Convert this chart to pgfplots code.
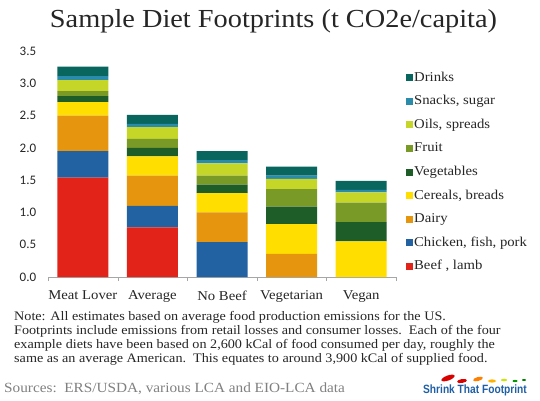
\documentclass[border=0pt]{standalone}
\usepackage{fontspec}
\setmainfont{Liberation Serif}[FakeStretch=1.09]
\newfontfamily\calibri{Carlito}
\newfontfamily\logofont{Liberation Sans}
\usepackage{pgfplots}
\pgfplotsset{compat=1.18}
\usepackage{pgfplotstable}

\definecolor{cBeef}{HTML}{E2231A}
\definecolor{cChicken}{HTML}{2362A2}
\definecolor{cDairy}{HTML}{E5960E}
\definecolor{cCereals}{HTML}{FFDE00}
\definecolor{cVeg}{HTML}{1E5C28}
\definecolor{cFruit}{HTML}{7A9A28}
\definecolor{cOils}{HTML}{C5D629}
\definecolor{cSnacks}{HTML}{2B8BAA}
\definecolor{cDrinks}{HTML}{08665E}
\definecolor{cText}{HTML}{262626}
\definecolor{cSrc}{HTML}{808080}
\definecolor{cLogo}{HTML}{1F5FA6}

\pgfplotstableread{
x beef chicken dairy cereals veg fruit oils snacks drinks total lab
0 1.54 0.41 0.55 0.21 0.09 0.08 0.17 0.06 0.15 0 3.3
1 0.77 0.33 0.47 0.30 0.13 0.14 0.18 0.05 0.14 0 2.5
2 0    0.54 0.46 0.30 0.13 0.14 0.19 0.05 0.14 0 1.9
3 0    0    0.36 0.46 0.27 0.27 0.16 0.05 0.14 0 1.7
4 0    0    0    0.55 0.30 0.30 0.16 0.04 0.14 0 1.5
}\data

\begin{document}
\begin{tikzpicture}
\fill[white] (0,0) rectangle (540pt,400pt);
\path[use as bounding box] (0,0) rectangle (540pt,400pt);

\node[anchor=base, font=\fontsize{26}{26}\selectfont, text=cText, inner sep=0pt] at (273.5pt,373pt) {Sample Diet Footprints (t CO2e/capita)};

\begin{axis}[
  at={(48pt,123pt)}, anchor=south west,
  scale only axis, width=348pt, height=226pt,
  ybar stacked, bar width=51pt,
  xmin=-0.5, xmax=4.5, ymin=0, ymax=3.5,
  axis x line*=bottom, axis y line*=left,
  axis line style={-},
  x axis line style={draw=gray!70},
  y axis line style={draw=none},
  xtick={0,...,4},
  xticklabels={Meat Lover, Average, No Beef, Vegetarian, Vegan},
  major x tick style={draw=none},
  minor xtick={-0.5,0.5,1.5,2.5,3.5,4.5},
  minor x tick style={draw=gray!70},
  minor tick length=4pt,
  tick align=outside,
  ytick={0,0.5,...,3.5},
  ytick style={draw=none},
  xticklabel style={font=\fontsize{13.5}{13.5}\selectfont, text=cText, yshift=-6pt},
  yticklabel style={font=\calibri\fontsize{13}{13}\selectfont, text=cText, xshift=-4pt, /pgf/number format/fixed, /pgf/number format/precision=1, /pgf/number format/fixed zerofill, /pgf/number format/assume math mode=true},
  legend style={draw=none, fill=none, at={(1.02,0.925)}, anchor=north west,
    font=\fontsize{13.5}{13.5}\selectfont, text=cText, row sep=8.6pt,
    nodes={inner sep=1pt, text height=10pt, text depth=3pt}},
  legend cell align=left,
  reverse legend,
  legend image code/.code={\fill[#1] (0pt,-3.5pt) rectangle (7pt,3.5pt);},
]
\addplot[fill=cBeef, draw=none] table[x=x, y=beef] {\data};
\addlegendentry{Beef , lamb}
\addplot[fill=cChicken, draw=none] table[x=x, y=chicken] {\data};
\addlegendentry{Chicken, fish, pork}
\addplot[fill=cDairy, draw=none] table[x=x, y=dairy] {\data};
\addlegendentry{Dairy}
\addplot[fill=cCereals, draw=none] table[x=x, y=cereals] {\data};
\addlegendentry{Cereals, breads}
\addplot[fill=cVeg, draw=none] table[x=x, y=veg] {\data};
\addlegendentry{Vegetables}
\addplot[fill=cFruit, draw=none] table[x=x, y=fruit] {\data};
\addlegendentry{Fruit}
\addplot[fill=cOils, draw=none] table[x=x, y=oils] {\data};
\addlegendentry{Oils, spreads}
\addplot[fill=cSnacks, draw=none] table[x=x, y=snacks] {\data};
\addlegendentry{Snacks, sugar}
\addplot[fill=cDrinks, draw=none] table[x=x, y=drinks] {\data};
\addlegendentry{Drinks}
\addplot[forget plot, draw=none, fill=none, nodes near coords, point meta=explicit symbolic,
  nodes near coords style={font=\calibri\fontsize{16}{16}\selectfont, text=black, anchor=south, inner sep=1pt}]
  table[x=x, y=total, meta=lab] {\data};
\end{axis}

\node[anchor=base west, align=left, font=\fontsize{13}{14}\selectfont, text=cText, inner sep=0pt] at (14pt,38pt)
{Note: All estimates based on average food production emissions for the US.\\
Footprints include emissions from retail losses and consumer losses.\ \ Each of the four\\
example diets have been based on 2,600 kCal of food consumed per day, roughly the\\
same as an average American.\ \ This equates to around 3,900 kCal of supplied food.};

\node[anchor=base west, font=\fontsize{14}{14}\selectfont, text=cSrc, inner sep=0pt] at (4pt,8pt)
{Sources:\ \ ERS/USDA, various LCA and EIO-LCA data};

\node[anchor=base west, font=\logofont\bfseries\fontsize{12}{12}\selectfont, text=cLogo, inner sep=0pt, xscale=0.85] at (423pt,7pt) {Shrink That Footprint};
\fill[red!85!black, rotate around={20:(448pt,22pt)}] (448pt,22pt) ellipse (7pt and 2.5pt);
\fill[red!85!black, rotate around={10:(462pt,19pt)}] (462pt,19pt) ellipse (5pt and 2pt);
\fill[orange, rotate around={15:(478pt,21pt)}] (478pt,21pt) ellipse (5pt and 2pt);
\fill[orange!60!yellow] (492pt,19pt) ellipse (4pt and 1.6pt);
\fill[yellow!80!green] (504pt,20pt) ellipse (3pt and 1.3pt);
\fill[green!60!black] (515pt,19pt) ellipse (2.5pt and 1.1pt);
\fill[green!50!black] (524pt,20pt) ellipse (2pt and 1pt);
\end{tikzpicture}
\end{document}
